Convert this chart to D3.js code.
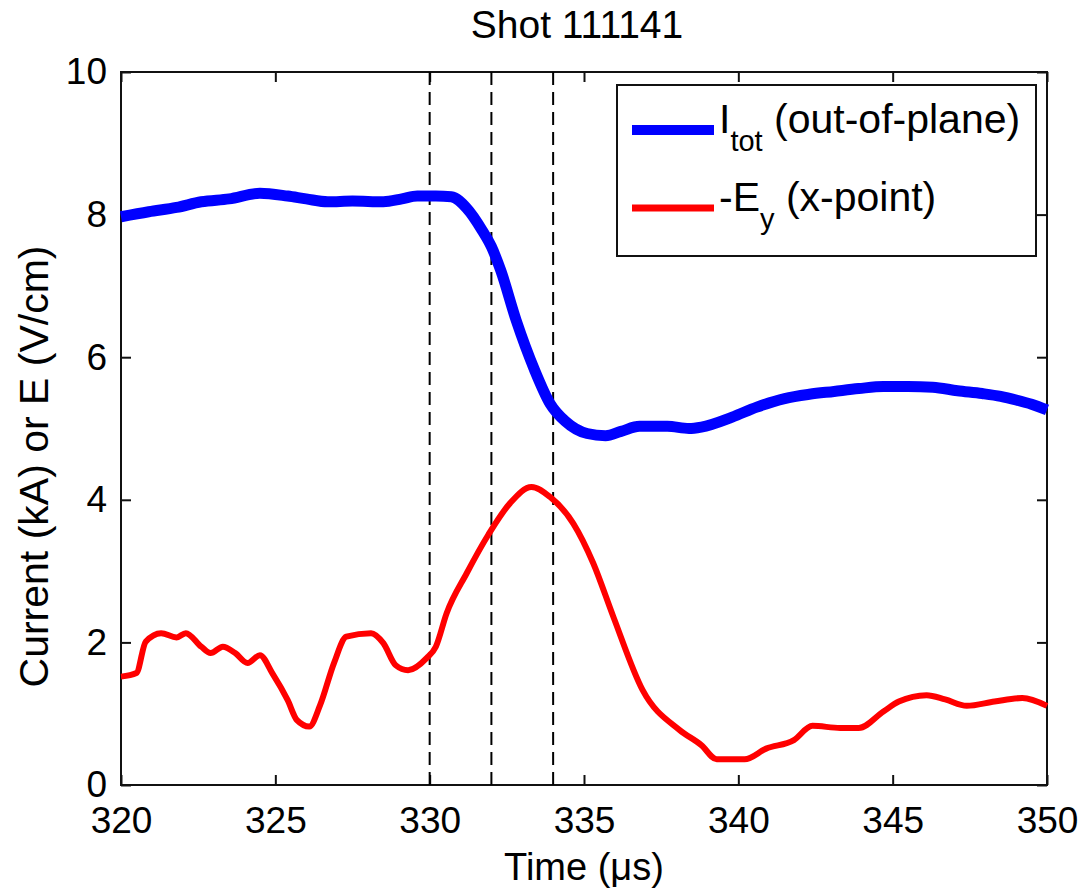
<!DOCTYPE html>
<html>
<head>
<meta charset="utf-8">
<script src="https://cdn.jsdelivr.net/npm/d3@7"></script>
<style>
  body { margin: 0; background: #fff; }
  svg { display: block; font-family: "Liberation Sans", Arial, sans-serif; }
</style>
</head>
<body>
<div id="chart"></div>
<script>
// Shot 111141 - current and reconnection field vs time

const xTicks = [320, 325, 330, 335, 340, 345, 350];
const yTicks = [0, 2, 4, 6, 8, 10];
const markerTimes = [330, 332, 334];

// I_tot (out-of-plane), kA
const currentTime = [320.0, 320.9, 321.8, 322.6, 323.5, 324.5, 325.4, 326.0, 326.7, 327.5,
    328.5, 329.1, 329.6, 330.2, 330.7, 331.2, 331.7, 332.0, 332.3, 332.8,
    333.4, 333.9, 334.4, 335.1, 335.7, 336.2, 336.8, 337.7, 338.4, 338.8,
    339.8, 340.6, 341.5, 342.3, 343.1, 343.9, 344.7, 345.5, 346.3, 347.1,
    347.9, 348.5, 349.0, 349.5, 350.0];
const currentValue = [7.97, 8.04, 8.10, 8.18, 8.22, 8.30, 8.26, 8.22, 8.18, 8.19,
    8.18, 8.22, 8.26, 8.26, 8.25, 8.09, 7.78, 7.55, 7.22, 6.52,
    5.82, 5.35, 5.10, 4.93, 4.90, 4.96, 5.03, 5.03, 5.00, 5.02,
    5.16, 5.30, 5.42, 5.48, 5.52, 5.56, 5.59, 5.59, 5.58, 5.53,
    5.49, 5.45, 5.40, 5.34, 5.26];

// -E_y (x-point), V/cm
const fieldTime = [320.0, 320.5, 320.8, 321.3, 321.8, 322.1, 322.6, 322.9, 323.3, 323.7,
    324.1, 324.5, 324.9, 325.4, 325.7, 326.1, 326.45, 326.9, 327.3, 328.1,
    328.5, 328.9, 329.3, 329.9, 330.2, 330.55, 331.2, 331.9, 332.6, 333.3,
    333.9, 334.65, 335.3, 335.95, 336.9, 338.1, 338.8, 339.3, 340.2, 340.9,
    341.8, 342.4, 343.3, 343.9, 344.7, 345.2, 346.1, 346.7, 347.4, 348.3,
    349.2, 350.0];
const fieldValue = [1.52, 1.57, 2.01, 2.13, 2.07, 2.13, 1.94, 1.85, 1.94, 1.85,
    1.71, 1.82, 1.57, 1.19, 0.91, 0.82, 1.12, 1.71, 2.08, 2.13,
    1.99, 1.68, 1.61, 1.78, 1.94, 2.41, 2.97, 3.51, 3.95, 4.18,
    4.04, 3.67, 3.11, 2.36, 1.33, 0.77, 0.56, 0.36, 0.36, 0.51,
    0.63, 0.83, 0.80, 0.80, 1.03, 1.17, 1.26, 1.20, 1.11, 1.17,
    1.22, 1.11];

const width = 1078;
const height = 891;
const margin = { top: 72, right: 31, bottom: 106, left: 121 };
const innerW = width - margin.left - margin.right;
const innerH = height - margin.top - margin.bottom;

const svg = d3.select('#chart')
    .append('svg')
    .attr('width', width)
    .attr('height', height);

svg.append('rect')
    .attr('width', width)
    .attr('height', height)
    .attr('fill', '#fff');

const g = svg.append('g')
    .attr('transform', `translate(${margin.left},${margin.top})`);

const x = d3.scaleLinear().domain([320, 350]).range([0, innerW]);
const y = d3.scaleLinear().domain([0, 10]).range([innerH, 0]);

// axes, ticks pointing inward on all four sides
const tickLen = 10;
function styleAxis(sel) {
    sel.select('.domain').remove();
    sel.selectAll('line').attr('stroke', '#111').attr('stroke-width', 2);
    sel.selectAll('text')
        .attr('fill', '#000')
        .attr('font-size', 37);
}

g.append('g')
    .attr('transform', `translate(0,${innerH})`)
    .call(d3.axisBottom(x).tickValues(xTicks).tickSize(-tickLen).tickPadding(22))
    .call(styleAxis);

g.append('g')
    .call(d3.axisTop(x).tickValues(xTicks).tickSize(-tickLen).tickFormat(''))
    .call(styleAxis);

g.append('g')
    .call(d3.axisLeft(y).tickValues(yTicks).tickSize(-tickLen).tickPadding(14))
    .call(styleAxis);

g.append('g')
    .attr('transform', `translate(${innerW},0)`)
    .call(d3.axisRight(y).tickValues(yTicks).tickSize(-tickLen).tickFormat(''))
    .call(styleAxis);

g.append('rect')
    .attr('width', innerW)
    .attr('height', innerH)
    .attr('fill', 'none')
    .attr('stroke', '#111')
    .attr('stroke-width', 2);

// vertical dashed markers
g.selectAll('.marker')
    .data(markerTimes)
    .enter()
    .append('line')
    .attr('class', 'marker')
    .attr('x1', d => x(d))
    .attr('x2', d => x(d))
    .attr('y1', 0)
    .attr('y2', innerH)
    .attr('stroke', '#000')
    .attr('stroke-width', 2)
    .attr('stroke-dasharray', '13,7');

const line = d3.line()
    .x(d => x(d[0]))
    .y(d => y(d[1]))
    .curve(d3.curveMonotoneX);

g.append('path')
    .datum(currentTime.map((t, i) => [t, currentValue[i]]))
    .attr('d', line)
    .attr('fill', 'none')
    .attr('stroke', '#0000ff')
    .attr('stroke-width', 11);

g.append('path')
    .datum(fieldTime.map((t, i) => [t, fieldValue[i]]))
    .attr('d', line)
    .attr('fill', 'none')
    .attr('stroke', '#ff0000')
    .attr('stroke-width', 6);

// legend
const legend = svg.append('g');
legend.append('rect')
    .attr('x', 617)
    .attr('y', 85)
    .attr('width', 419)
    .attr('height', 171)
    .attr('fill', '#fff')
    .attr('stroke', '#111')
    .attr('stroke-width', 2);

const legendItems = [
    { color: '#0000ff', width: 10, y: 130, main: 'I', sub: 'tot', rest: ' (out-of-plane)' },
    { color: '#ff0000', width: 7, y: 208, main: '-E', sub: 'y', rest: ' (x-point)' }
];

legendItems.forEach(item => {
    legend.append('line')
        .attr('x1', 632)
        .attr('x2', 714)
        .attr('y1', item.y)
        .attr('y2', item.y)
        .attr('stroke', item.color)
        .attr('stroke-width', item.width);

    const t = legend.append('text')
        .attr('x', 719)
        .attr('y', item.y + 3)
        .attr('font-size', 41)
        .attr('fill', '#000');
    t.append('tspan').text(item.main);
    t.append('tspan').attr('font-size', 29).attr('dy', 18).text(item.sub);
    t.append('tspan').attr('dy', -18).text(item.rest);
});

// title and axis labels
svg.append('text')
    .attr('x', 577)
    .attr('y', 38)
    .attr('text-anchor', 'middle')
    .attr('font-size', 39)
    .attr('fill', '#000')
    .text('Shot 111141');

svg.append('text')
    .attr('x', margin.left + innerW / 2)
    .attr('y', 880)
    .attr('text-anchor', 'middle')
    .attr('font-size', 38)
    .attr('fill', '#000')
    .text('Time (μs)');

svg.append('text')
    .attr('transform', `translate(48,${margin.top + innerH / 2 + 38}) rotate(-90)`)
    .attr('text-anchor', 'middle')
    .attr('font-size', 41)
    .attr('fill', '#000')
    .text('Current (kA) or E (V/cm)');
</script>
</body>
</html>
